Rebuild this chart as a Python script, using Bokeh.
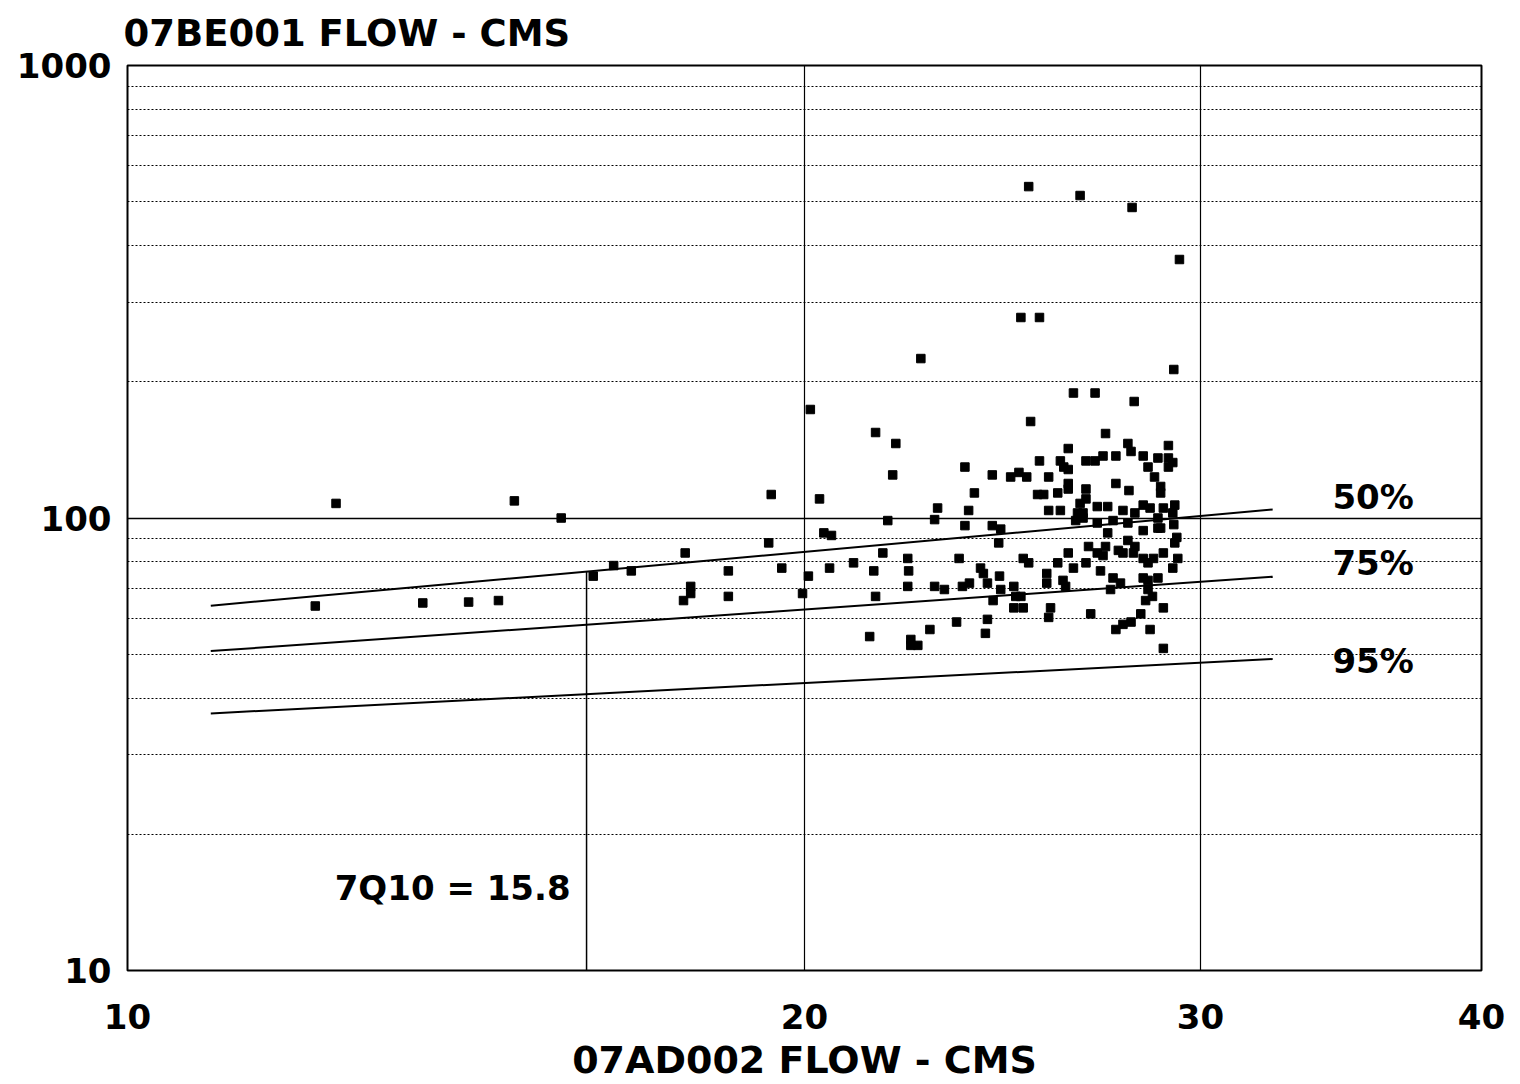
import math
from bokeh.plotting import figure
from bokeh.models import FixedTicker, NumeralTickFormatter, Label
from bokeh.embed import file_html
from bokeh.resources import INLINE

# ---- data ----
x_ticks = [10, 20, 30, 40]
y_ticks = [10, 100, 1000]
y_minor = [20, 30, 40, 50, 60, 70, 80, 90, 200, 300, 400, 500, 600, 700, 800, 900]
x_grid = [20, 30]

flow_ad002 = [
    12.12, 12.38, 13.53, 14.18, 14.62, 14.86, 15.59, 16.11, 16.45, 16.75,
    17.67, 17.70, 17.80, 17.80, 18.50, 18.50, 19.28, 19.33, 19.54, 19.96,
    20.08, 20.12, 20.31, 20.40, 20.56, 20.52, 21.03, 21.38, 21.47, 21.51,
    21.51, 21.67, 21.78, 21.89, 21.96, 22.23, 22.25, 22.23, 22.30, 22.46,
    22.30, 22.53, 22.74, 22.85, 22.85, 22.92, 23.08, 23.37, 23.43, 23.51,
    23.57, 23.57, 23.66, 23.68, 23.80, 23.95, 24.02, 24.07, 24.12, 24.12,
    24.24, 24.24, 24.26, 24.40, 24.42, 24.45, 24.45, 24.70, 24.78, 24.78,
    24.83, 24.91, 24.96, 24.96, 25.02, 25.02, 25.11, 25.16, 25.16, 25.21,
    25.39, 25.44, 25.44, 25.55, 25.63, 25.63, 25.68, 25.68, 25.68, 25.73,
    25.92, 25.92, 25.99, 25.99, 26.06, 26.08, 26.13, 26.20, 26.20, 26.20,
    26.20, 26.20, 26.34, 26.34, 26.40, 26.45, 26.52, 26.52, 26.60, 26.60,
    26.68, 26.68, 26.68, 26.68, 26.75, 26.81, 26.93, 26.93, 26.99, 26.99,
    26.99, 27.08, 27.15, 27.15, 27.22, 27.22, 27.28, 27.28, 27.36, 27.43,
    27.43, 27.51, 27.51, 27.51, 27.58, 27.64, 27.71, 27.71, 27.71, 27.85,
    27.85, 27.85, 27.88, 27.94, 27.94, 27.97, 28.01, 28.03, 28.05, 28.05,
    28.22, 28.29, 28.29, 28.29, 28.29, 28.29, 28.36, 28.43, 28.43, 28.43,
    28.43, 28.49, 28.49, 28.56, 28.59, 28.62, 28.72, 28.72, 28.72, 28.72,
    28.80, 28.80, 28.80, 28.88, 28.88, 28.88, 28.88, 29.03, 29.03, 29.03,
    29.16, 29.16, 29.16, 29.19, 29.19, 29.22, 29.22, 29.28, 29.31, 29.36,
]
flow_be001 = [
    63.9, 107.7, 64.9, 65.2, 65.7, 109.1, 100.0, 74.4, 78.5, 76.4,
    65.7, 83.7, 70.6, 68.1, 76.4, 67.1, 88.1, 112.7, 77.5, 68.1,
    74.4, 173.7, 110.2, 92.7, 91.5, 77.5, 79.6, 54.7, 76.4, 154.5,
    67.1, 83.7, 98.7, 124.5, 146.1, 81.4, 76.4, 70.6, 53.9, 52.3,
    52.3, 225.1, 56.7, 99.2, 70.6, 105.2, 69.5, 58.9, 81.4, 70.6,
    96.2, 129.6, 103.9, 71.8, 113.6, 77.5, 75.4, 55.6, 59.7, 71.8,
    124.5, 96.2, 65.7, 88.1, 74.4, 94.5, 69.5, 123.2, 70.6, 63.3,
    67.1, 126.1, 277.4, 67.1, 81.4, 63.3, 123.2, 540.0, 79.6, 163.4,
    112.7, 277.4, 133.7, 112.7, 75.4, 71.8, 123.2, 103.9, 60.3, 63.3,
    113.6, 79.6, 103.9, 133.7, 72.8, 129.6, 70.6, 128.0, 83.7, 142.4,
    119.2, 115.9, 188.9, 77.5, 98.7, 102.6, 516.0, 107.7, 100.0, 102.6,
    133.7, 110.2, 79.6, 115.9, 86.5, 61.4, 188.9, 133.7, 106.0, 97.5,
    83.7, 76.4, 137.1, 82.6, 153.7, 86.5, 106.0, 92.7, 69.5, 73.7,
    98.7, 137.1, 56.7, 119.2, 84.8, 71.8, 103.9, 58.2, 83.7, 146.1,
    97.5, 89.2, 115.0, 140.3, 58.9, 485.6, 83.7, 180.9, 102.6, 86.5,
    61.4, 137.1, 73.7, 106.8, 93.8, 81.4, 65.7, 129.6, 69.5, 79.6,
    72.8, 56.7, 105.2, 67.1, 81.4, 123.2, 135.7, 100.0, 95.0, 73.7,
    117.4, 113.6, 95.0, 105.2, 83.7, 63.3, 51.5, 144.6, 135.7, 129.6,
    132.6, 102.6, 77.5, 212.9, 96.7, 106.8, 88.1, 90.6, 81.4, 372.6,
]

# exceedance lines (end points, log-log straight lines)
line_x = [10.89, 32.3]
line_50 = [64.0, 104.4]
line_75 = [50.8, 74.2]
line_95 = [37.0, 48.8]
pct_labels = ["50%", "75%", "95%"]
pct_label_x = [35.8, 35.8, 35.8]
pct_label_y = [111.0, 79.4, 48.4]

q7_10_x = 16.0
q7_10_text = "7Q10 = 15.8"
q7_10_text_pos = (13.95, 15.2)

title_text = "07BE001 FLOW - CMS"
x_label = "07AD002 FLOW - CMS"

FONT = "DejaVu Sans"

p = figure(width=1512, height=1084, x_axis_type="log", y_axis_type="log",
           x_range=(10, 40), y_range=(10, 1000),
           output_backend="svg", toolbar_location=None,
           min_border_left=127, min_border_right=31,
           min_border_top=65, min_border_bottom=114)
p.background_fill_color = "white"
p.border_fill_color = "white"
p.outline_line_color = "black"
p.outline_line_width = 2

p.title.text = title_text
p.title.text_font = FONT
p.title.text_font_style = "bold"
p.title.text_font_size = "37px"
p.title.align = "left"
p.title.text_color = "black"
p.title.standoff = 18
p.title.vertical_align = "top"
p.title.offset = -4

# axes
for ax in (p.xaxis[0], p.yaxis[0]):
    ax.axis_line_color = None
    ax.major_tick_line_color = None
    ax.minor_tick_line_color = None
    ax.major_label_text_font = FONT
    ax.major_label_text_font_style = "bold"
    ax.major_label_text_font_size = "34px"
    ax.major_label_text_color = "black"
    ax.formatter = NumeralTickFormatter(format="0")

p.xaxis.ticker = FixedTicker(ticks=x_ticks)
p.yaxis.ticker = FixedTicker(ticks=y_ticks)
p.xaxis.major_label_standoff = 27
p.yaxis.major_label_standoff = 10
p.xaxis.axis_label = x_label
p.xaxis.axis_label_text_font = FONT
p.xaxis.axis_label_text_font_style = "bold"
p.xaxis.axis_label_text_font_size = "38px"
p.xaxis.axis_label_text_color = "black"
p.xaxis.axis_label_standoff = 6

# grids
p.xgrid.ticker = FixedTicker(ticks=x_grid)
p.xgrid.grid_line_color = "black"
p.xgrid.grid_line_width = 1.2
p.ygrid.ticker = FixedTicker(ticks=y_ticks, minor_ticks=y_minor)
p.ygrid.grid_line_color = "black"
p.ygrid.grid_line_width = 1.5
p.ygrid.minor_grid_line_color = "black"
p.ygrid.minor_grid_line_dash = "2 2"
p.ygrid.minor_grid_line_width = 1

# exceedance lines
for ys in (line_50, line_75, line_95):
    p.line(line_x, ys, line_color="black", line_width=2)

# 7Q10 vertical line up to the 50% line
lx0, lx1 = math.log10(line_x[0]), math.log10(line_x[1])
ly0, ly1 = math.log10(line_50[0]), math.log10(line_50[1])
t = (math.log10(q7_10_x) - lx0) / (lx1 - lx0)
y_top = 10 ** (ly0 + t * (ly1 - ly0))
p.line([q7_10_x, q7_10_x], [10, y_top], line_color="black", line_width=1.5)

# scatter points
p.scatter(flow_ad002, flow_be001, marker="square", size=8.5,
          fill_color="black", line_color="black")

# labels
for txt, lx, ly in zip(pct_labels, pct_label_x, pct_label_y):
    p.add_layout(Label(x=lx, y=ly, text=txt, text_align="center",
                       text_baseline="middle", text_font=FONT,
                       text_font_style="bold", text_font_size="34px",
                       text_color="black"))
p.add_layout(Label(x=q7_10_text_pos[0], y=q7_10_text_pos[1], text=q7_10_text,
                   text_align="center", text_baseline="middle",
                   text_font=FONT, text_font_style="bold",
                   text_font_size="34px", text_color="black"))

open("out.html", "w").write(file_html(p, INLINE))
